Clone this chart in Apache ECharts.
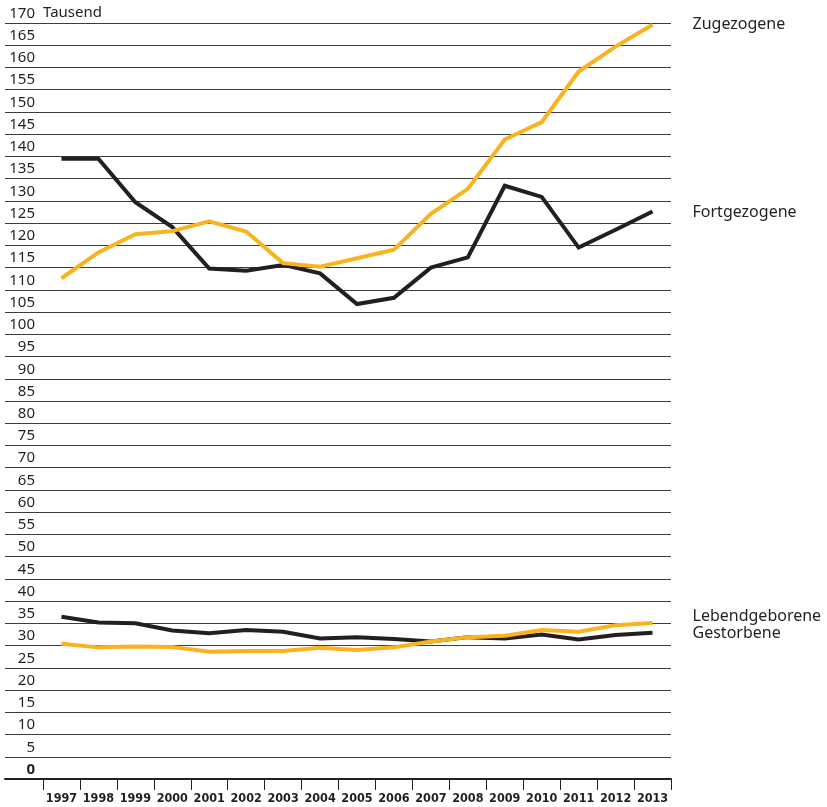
<!DOCTYPE html>
<html><head><meta charset="utf-8">
<script src="https://cdn.jsdelivr.net/npm/echarts@6/dist/echarts.min.js"></script>
<style>html,body{margin:0;padding:0;background:#fff}#c{width:827px;height:807px}</style>
</head><body><div id="c"></div>
<script>
const years = ['1997','1998','1999','2000','2001','2002','2003','2004','2005','2006','2007','2008','2009','2010','2011','2012','2013'];
const zugezogene   = [112.6,118.4,122.5,123.2,125.4,123.1,116.0,115.2,117.1,119.0,127.1,132.7,143.8,147.7,159.1,164.7,169.6];
const fortgezogene = [139.5,139.5,129.7,124.1,114.8,114.3,115.6,113.7,106.8,108.2,115.0,117.3,133.4,130.9,119.5,123.5,127.6];
const lebendgeborene = [30.4,29.6,29.8,29.7,28.6,28.8,28.8,29.5,29.0,29.6,30.9,31.9,32.2,33.5,33.1,34.6,35.1];
const gestorbene     = [36.5,35.2,35.0,33.4,32.8,33.5,33.1,31.6,31.9,31.5,30.9,31.9,31.6,32.5,31.4,32.4,32.9];
const yMin = 0, yMax = 170, yStep = 5;
const unitLabel = 'Tausend';

const YELLOW = '#F9B31C', BLACK = '#231F20';
const labelFont = 'Noto Sans';

function lineSeries(name, data, color, offset) {
  return {
    type: 'line', name, data, xAxisIndex: 1, yAxisIndex: 1,
    symbol: 'none', animation: false,
    lineStyle: {color, width: 4, join: 'miter', cap: 'butt'},
    endLabel: {show: true, formatter: '{a}', distance: 40, offset: offset,
      color: '#231F20', fontSize: 16, fontFamily: labelFont}
  };
}

const chart = echarts.init(document.getElementById('c'), null, {renderer: 'canvas'});
chart.setOption({
  backgroundColor: '#fff',
  animation: false,
  graphic: [{type: 'text', left: 43, top: 5,
    style: {text: unitLabel, font: '15px "Noto Sans"', fill: '#231F20'}}],
  grid: [
    {left: 5, right: 156, top: 23, height: 756},
    {left: 43, right: 156, top: 23, height: 756}
  ],
  xAxis: [
    {type: 'value', gridIndex: 0, min: 0, max: 1,
      axisLine: {show: true, lineStyle: {color: '#231F20', width: 2}},
      axisTick: {show: false}, axisLabel: {show: false}, splitLine: {show: false}},
    {type: 'category', gridIndex: 1, data: years, boundaryGap: true,
      axisLine: {show: false},
      axisTick: {show: true, length: 11, lineStyle: {color: '#231F20', width: 1}},
      axisLabel: {margin: 13, color: '#231F20', fontWeight: 'bold', fontSize: 12.5,
        fontFamily: '"Liberation Sans Narrow", "DejaVu Sans Condensed", sans-serif', interval: 0},
      splitLine: {show: false}}
  ],
  yAxis: [
    {type: 'value', gridIndex: 0, min: yMin, max: yMax, interval: yStep, offset: -30,
      axisLine: {show: false}, axisTick: {show: false},
      splitLine: {show: true, lineStyle: {color: '#3c3c3c', width: 1}},
      axisLabel: {margin: 0, align: 'right', verticalAlign: 'bottom',
        showMinLabel: true, showMaxLabel: true,
        color: '#231F20', fontSize: 15, fontFamily: labelFont, padding: [0, 0, 2, 0],
        formatter: v => v === 0 ? '{b|0}' : String(v),
        rich: {
          b: {fontWeight: 'bold', fontSize: 15, fontFamily: labelFont, color: '#231F20'}
        }}},
    {type: 'value', gridIndex: 1, min: yMin, max: yMax, interval: yStep, show: false}
  ],
  series: [
    lineSeries('Fortgezogene', fortgezogene, BLACK, [0, 1]),
    lineSeries('Zugezogene', zugezogene, YELLOW, [0, 0]),
    lineSeries('Gestorbene', gestorbene, BLACK, [0, 1]),
    lineSeries('Lebendgeborene', lebendgeborene, YELLOW, [0, -6])
  ]
});
</script>
</body></html>
